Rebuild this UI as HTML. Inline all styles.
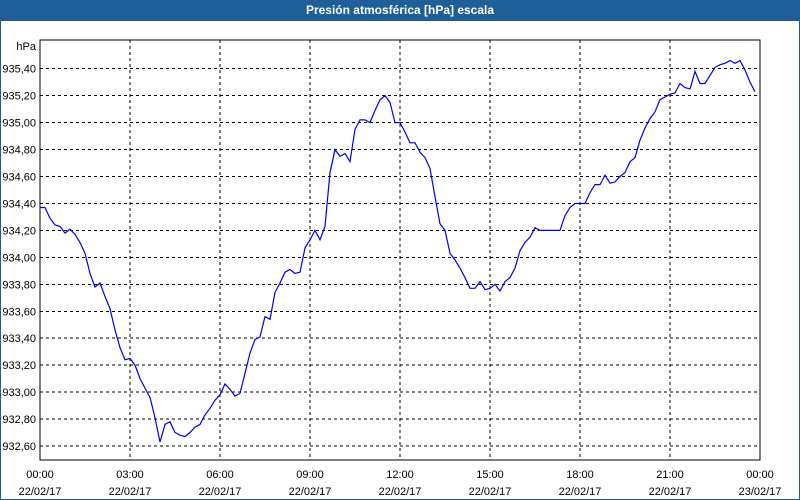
<!DOCTYPE html>
<html><head><meta charset="utf-8"><style>
body{margin:0;width:800px;height:500px;background:#fff;overflow:hidden;font-family:"Liberation Sans",sans-serif}
#wrap{position:absolute;left:0;top:0;width:798px;height:499px;border:1px solid #1f5f97;border-top:none}
#title{position:absolute;left:0;top:0;width:800px;height:21px;background:#1f5f97;color:#fff;font-weight:bold;font-size:12px;text-align:center;line-height:21px}
</style></head><body>
<div id="wrap"></div>
<div id="title">Presión atmosférica [hPa] escala</div>
<svg id="chart" width="800" height="500" style="position:absolute;left:0;top:0"></svg>
<script>
const yTicks=[932.6,932.8,933.0,933.2,933.4,933.6,933.8,934.0,934.2,934.4,934.6,934.8,935.0,935.2,935.4];
const xTimeLabels=["00:00","03:00","06:00","09:00","12:00","15:00","18:00","21:00","00:00"];
const xDateLabels=["22/02/17","22/02/17","22/02/17","22/02/17","22/02/17","22/02/17","22/02/17","22/02/17","23/02/17"];
const stepMinutes=10;
const pressure=[934.37,934.37,934.29,934.24,934.23,934.18,934.21,934.17,934.11,934.03,933.88,933.78,933.81,933.71,933.62,933.46,933.33,933.24,933.25,933.20,933.10,933.03,932.96,932.81,932.63,932.76,932.78,932.70,932.68,932.67,932.70,932.74,932.76,932.83,932.88,932.94,932.98,933.06,933.02,932.97,932.99,933.14,933.29,933.39,933.41,933.56,933.54,933.74,933.81,933.89,933.91,933.88,933.89,934.07,934.13,934.20,934.13,934.23,934.63,934.80,934.75,934.77,934.71,934.95,935.02,935.02,935.00,935.09,935.17,935.20,935.15,935.00,935.00,934.93,934.85,934.85,934.78,934.74,934.66,934.45,934.25,934.20,934.03,933.98,933.92,933.85,933.77,933.77,933.82,933.76,933.77,933.80,933.75,933.82,933.85,933.92,934.05,934.11,934.15,934.22,934.20,934.20,934.20,934.20,934.20,934.31,934.37,934.40,934.40,934.40,934.48,934.54,934.54,934.61,934.55,934.56,934.60,934.63,934.71,934.74,934.87,934.96,935.03,935.08,935.17,935.19,935.21,935.22,935.29,935.26,935.25,935.38,935.29,935.29,935.35,935.41,935.43,935.44,935.46,935.44,935.46,935.39,935.30,935.23];
const L=40,R=760,T=40,B=460;
const y=v=>446-(v-932.6)/0.2*26.95;
const x=min=>L+(min/1440)*(R-L);
const svg=document.getElementById('chart');
const NS='http://www.w3.org/2000/svg';
function mk(t,a){const e=document.createElementNS(NS,t);for(const k in a)e.setAttribute(k,a[k]);svg.appendChild(e);return e;}
yTicks.forEach(v=>{
  const g=mk('line',{x1:L,x2:R,y1:y(v),y2:y(v),stroke:'#000','stroke-dasharray':'3,3','shape-rendering':'crispEdges'});
  
  
  const t=mk('text',{x:36,y:y(v)+4,'text-anchor':'end','font-size':'11','fill':'#000','font-family':'Liberation Sans, sans-serif'});
  t.textContent=v.toFixed(2).replace('.',',');
  
  
});
xTimeLabels.forEach((s,i)=>{
  const xx=x(i*180);
  if(i>0&&i<xTimeLabels.length-1){
    const g=mk('line',{x1:xx,x2:xx,y1:T,y2:B,stroke:'#000','stroke-dasharray':'3,3','shape-rendering':'crispEdges'});
    
    
  }
  const t=mk('text',{x:xx,y:478,'text-anchor':'middle','font-size':'11','fill':'#000','font-family':'Liberation Sans, sans-serif'});
  t.textContent=s;
  
  
  const d=mk('text',{x:xx,y:495,'text-anchor':'middle','font-size':'11','fill':'#000','font-family':'Liberation Sans, sans-serif'});
  d.textContent=xDateLabels[i];
  
  
});
const u=mk('text',{x:36,y:50,'text-anchor':'end','font-size':'11','fill':'#000','font-family':'Liberation Sans, sans-serif'});
u.textContent='hPa';


const fr=mk('rect',{x:L,y:T,width:R-L,height:B-T,fill:'none',stroke:'#000','stroke-width':'1','shape-rendering':'crispEdges'});


const pts=pressure.map((v,i)=>x(i*stepMinutes).toFixed(1)+','+y(v).toFixed(1)).join(' ');
const pl=mk('polyline',{points:pts,fill:'none',stroke:'#0000ee','stroke-width':'1.2'});


</script>
</body></html>
